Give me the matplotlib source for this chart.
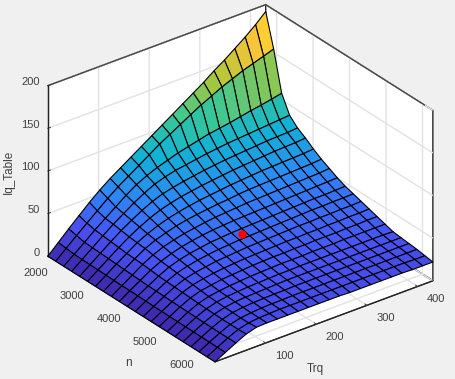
import matplotlib
matplotlib.use('Agg')
import matplotlib.pyplot as plt
from matplotlib.colors import LinearSegmentedColormap
import numpy as np

plt.rcParams['font.family'] = ['Liberation Sans', 'DejaVu Sans']

trq = [0, 20.5, 41, 61.5, 82, 102.5, 123, 143.5, 164, 184.5, 205, 225.5, 246, 266.5, 287, 307.5, 328, 348.5, 369, 389.5, 410, 430]
n = [1700, 1918, 2137, 2355, 2573, 2792, 3010, 3228, 3447, 3665, 3883, 4102, 4320, 4538, 4757, 4975, 5193, 5412, 5630, 5848, 6067, 6285]

# 每行一个转速 n, 每列一个扭矩 Trq
iq_table = [
    [0, 11.5, 23, 34, 45, 55, 64, 72, 80, 88, 96, 104, 112, 120, 128, 136, 145, 153, 162, 171, 181, 192],
    [0, 10.5, 21, 31, 41, 51, 60, 68, 76, 84, 92, 99, 106, 113, 120, 126, 132, 137, 142, 146, 150, 154],
    [0, 9.5, 19, 29, 38, 47, 56, 64, 70, 75, 79, 83, 86, 89, 92, 94, 96, 98.5, 101, 103, 105.5, 108],
    [0, 9.2, 18.5, 28, 37, 45, 53, 60, 66, 70, 73, 75, 77, 79, 80.5, 82, 83, 84, 85, 86, 87, 88],
    [0, 9, 18, 27, 35.5, 43, 50, 56, 60.5, 63.5, 66, 68, 70, 71.5, 73, 74, 75, 76, 77, 77.5, 78, 79],
    [0, 8.8, 17.5, 26, 34, 41, 47, 52, 55.5, 58.5, 60.5, 62.5, 64, 65.5, 67, 68, 69, 70, 71, 71.5, 72, 73],
    [0, 8.5, 17, 25, 33, 39, 44, 48, 51, 53.5, 55.5, 57, 58.5, 60, 61, 62, 63, 63.5, 64, 64.5, 65, 66],
    [0, 8.3, 16.5, 24.5, 32, 37.5, 41.5, 45, 47.5, 49.5, 51, 52.5, 53.5, 55, 56, 56.5, 57, 57.5, 58, 58.5, 59, 60],
    [0, 8, 16, 24, 30.5, 35.5, 39, 42, 44, 46, 47.5, 48.5, 49.5, 50.5, 51, 51.5, 52, 52.5, 53, 53.5, 54, 55],
    [0, 8, 15.5, 23, 29, 33.5, 37, 39.5, 41.5, 43, 44, 45, 45.5, 46, 46.5, 47, 47.5, 48, 48.5, 49, 49.5, 50],
    [0, 7.8, 15, 22, 28, 32, 35, 37, 39, 40, 41, 41.5, 42, 42.5, 43, 43.5, 44, 44.5, 45, 45, 45.5, 46],
    [0, 7.6, 14.8, 21.5, 27, 30.5, 33, 35, 36.5, 37.5, 38.5, 39, 39.5, 40, 40.5, 41, 41.5, 42, 42, 42.5, 42.5, 43],
    [0, 7.4, 14.5, 21, 26, 29, 31, 33, 34, 35, 36, 36.5, 37, 37.5, 38, 38.5, 38.5, 39, 39, 39.5, 39.5, 40],
    [0, 7.3, 14.2, 20.5, 25, 27.5, 29.5, 31, 32, 33, 33.5, 34, 34.5, 35, 35, 35.5, 35.5, 36, 36, 36.5, 36.5, 37],
    [0, 7.2, 14, 20, 24, 26, 28, 29, 30, 31, 31.5, 32, 32, 32.5, 32.5, 33, 33, 33, 33.5, 33.5, 34, 34],
    [0, 7, 13.8, 19.5, 23, 25, 26.5, 27.5, 28.5, 29, 29.5, 30, 30, 30, 30.5, 30.5, 30.5, 31, 31, 31, 31, 31],
    [0, 7, 13.5, 19, 22.5, 24.5, 25.5, 26.5, 27, 27.5, 28, 28, 28.5, 28.5, 28.5, 28.5, 28.5, 28.5, 28.5, 28.5, 28.5, 28],
    [0, 6.8, 13.3, 18.8, 22, 24, 25, 25.5, 26, 26.5, 27, 27, 27, 27, 27, 27, 27, 27, 27, 27, 27, 27],
    [0, 6.7, 13.2, 18.5, 22, 23.5, 24.5, 25, 25.5, 25.5, 26, 26, 26, 26, 26, 26, 26, 26, 26, 26, 26, 26],
    [0, 6.6, 13, 18.5, 21.5, 23, 24, 24.5, 24.5, 25, 25, 25, 25, 25, 25, 25, 25, 25, 25, 25, 25, 25],
    [0, 6.5, 13, 18.5, 21.5, 23, 23.5, 24, 24, 24, 24, 24, 24, 24, 24, 24, 24, 24, 24, 24, 23.5, 23.5],
    [0, 6.5, 13, 19, 22.5, 23, 23, 23, 23, 23, 23, 23, 23, 22.5, 22.5, 22.5, 22.5, 22.5, 22.5, 22, 22, 22],
]

# 红点
pt_trq = [218]
pt_n = [3990]
pt_iq = [40]

trq_ticks = [100, 200, 300, 400]
n_ticks = [2000, 3000, 4000, 5000, 6000]
iq_ticks = [0, 50, 100, 150, 200]

parula = LinearSegmentedColormap.from_list('parula', [
    (0.2422, 0.1504, 0.6603), (0.2810, 0.3228, 0.9578), (0.1786, 0.5289, 0.9682),
    (0.0689, 0.6948, 0.8394), (0.2161, 0.7843, 0.5923), (0.6720, 0.7793, 0.2227),
    (0.9970, 0.7659, 0.2199), (0.9769, 0.9839, 0.0805)])

fig = plt.figure(figsize=(4.55, 3.79), dpi=100, facecolor='#F0F0F0')
ax = fig.add_axes([0.017, 0.003, 1, 1], projection='3d', computed_zorder=False)
ax.set_proj_type('ortho')
ax.view_init(elev=29, azim=-127.5)
ax.set_box_aspect((1, 1, 0.71), zoom=1.113)
ax.patch.set_alpha(0)

X, Y = np.meshgrid(trq, n)
Z = np.array(iq_table)
surf = ax.plot_surface(X, Y, Z, cmap=parula, vmin=0, vmax=192, rstride=1, cstride=1,
                       edgecolor='#000000', linewidth=0.8, shade=False, zorder=2)
surf.set_clip_on(False)
ax.plot(pt_trq, pt_n, pt_iq, 'o', color='red', ms=5, zorder=3)

ax.set_xlim(0, 430)
ax.set_ylim(6285, 1700)
ax.set_zlim(0, 200)
ax.set_xticks(trq_ticks)
ax.set_yticks(n_ticks)
ax.set_zticks(iq_ticks)

for axis in (ax.xaxis, ax.yaxis, ax.zaxis):
    axis.set_pane_color((1, 1, 1, 1))
    axis.pane.set_edgecolor('#262626')
    axis.line.set_color('#262626')
    axis._axinfo['grid']['color'] = '#E2E2E2'
    axis._axinfo['grid']['linewidth'] = 1.0
    axis._axinfo['tick']['inward_factor'] = 0
    axis._axinfo['tick']['outward_factor'] = 0.15
    axis._axinfo['tick']['color'] = '#262626'
    axis._axinfo['tick']['linewidth'] = {True: 0.7, False: 0.5}
ax.tick_params(labelsize=8, colors='#404040', pad=0)
ax.tick_params(axis='y', pad=-1)
ax.tick_params(axis='z', pad=-5)
for t in ax.get_xticklabels():
    t.set_ha('left')
    t.set_va('baseline')
for t in ax.get_yticklabels():
    t.set_ha('right')
    t.set_va('baseline')
for t in ax.get_zticklabels():
    t.set_ha('right')
    t.set_va('baseline')

# 上面的框线
ax.plot([0, 430], [1700, 1700], [200, 200], color='#404040', lw=0.9, zorder=1)
ax.plot([430, 430], [1700, 6285], [200, 200], color='#404040', lw=0.9, zorder=1)
ax.plot([0, 0], [1700, 1700], [0, 200], color='#222222', lw=1, zorder=1)
ax.plot([430, 430], [6285, 6285], [0, 200], color='#222222', lw=1, zorder=1)

fig.text(315 / 455, 1 - 369 / 379, 'Trq', fontsize=8.5, color='#404040', ha='center', va='center')
fig.text(128 / 455, 1 - 363 / 379, 'n', fontsize=8.5, color='#404040', ha='center', va='center')
fig.text(9 / 455, 1 - 172 / 379, 'Iq_Table', fontsize=8.5, color='#404040', ha='center', va='center', rotation=90)

fig.savefig('out.png', dpi=100, facecolor=fig.get_facecolor())
